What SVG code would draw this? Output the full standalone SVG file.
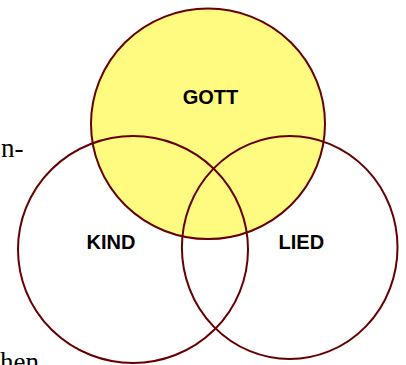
<svg xmlns="http://www.w3.org/2000/svg" width="406" height="365" viewBox="0 0 406 365">
<style>
.c{fill:none;stroke:#660000;stroke-width:2}
.lbl{font-family:"Liberation Sans",Arial,sans-serif;font-weight:bold;font-size:20px;fill:#000;text-anchor:middle}
.body{font-family:"Liberation Serif","Times New Roman",serif;font-size:27px;fill:#000}
</style>
<rect width="406" height="365" fill="#fff"/>
<text class="body" x="1" y="157">n-</text>
<text class="body" x="0" y="371">hen</text>
<g id="gott">
<ellipse cx="208" cy="123.8" rx="117" ry="115.3" fill="#FFFA80" stroke="#660000" stroke-width="2"/>
<text class="lbl" x="210.5" y="104">GOTT</text>
</g>
<g id="kind">
<ellipse class="c" cx="133" cy="249.5" rx="115" ry="113.5"/>
<text class="lbl" x="111" y="249">KIND</text>
</g>
<g id="lied">
<ellipse class="c" cx="289.7" cy="247.5" rx="107.8" ry="111.5"/>
<text class="lbl" x="301.3" y="249">LIED</text>
</g>
<g id="connectors"></g>
</svg>
